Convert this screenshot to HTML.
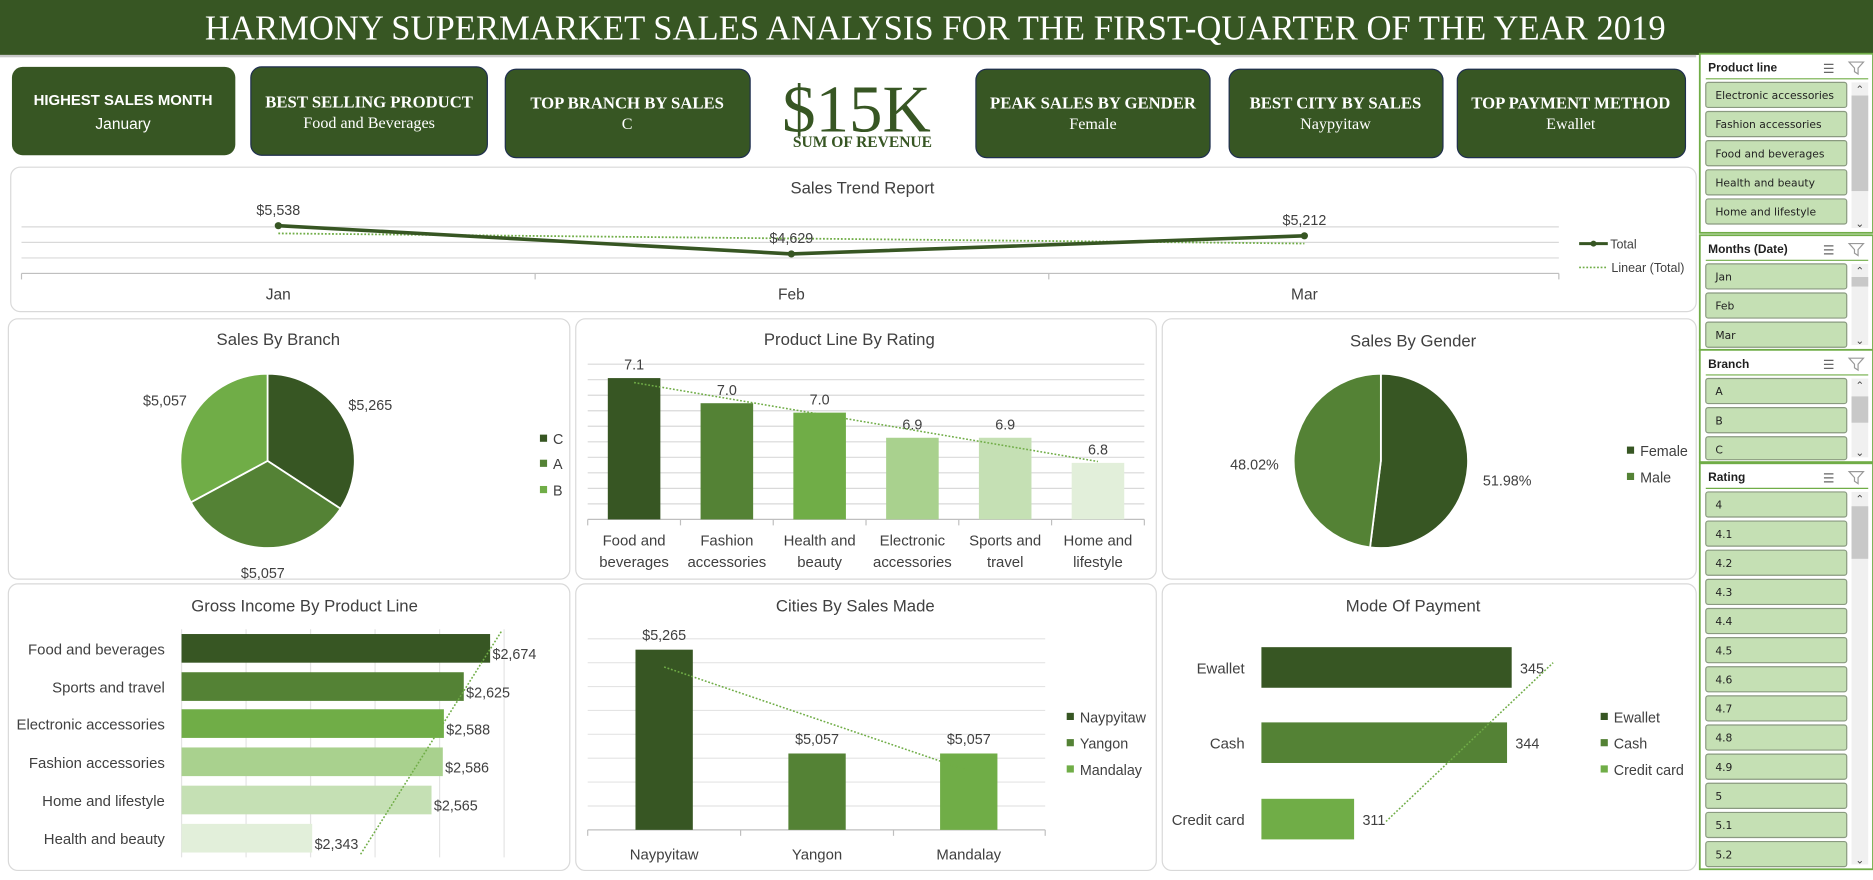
<!DOCTYPE html>
<html><head><meta charset="utf-8"><title>Harmony Supermarket Dashboard</title>
<style>
html,body{margin:0;padding:0;background:#fff;overflow:hidden}
svg{display:block;font-family:"Liberation Sans Narrow","Liberation Sans",sans-serif}
.serif{font-family:"Liberation Serif",serif}
</style></head>
<body>
<svg id="dash" width="1873" height="880" viewBox="0 0 1568 737" preserveAspectRatio="none" xmlns="http://www.w3.org/2000/svg">
<rect x="0" y="0" width="1568" height="737" fill="#ffffff"/>
<g>
<rect x="0" y="0" width="1568" height="46" fill="#375623"/>
<rect x="0" y="46" width="1420" height="2" fill="#c8c8c8"/>
<text class="serif" x="783" y="33" text-anchor="middle" font-size="29" fill="#ffffff">HARMONY SUPERMARKET SALES ANALYSIS FOR THE FIRST-QUARTER OF THE YEAR 2019</text>
</g>
<g fill="#fff">
<g>
<rect x="10" y="56" width="187" height="74" rx="9" fill="#375623"/>
<text x="103" y="88" text-anchor="middle" font-size="12.5" font-weight="bold" fill="#fff">HIGHEST SALES MONTH</text>
<text x="103" y="108" text-anchor="middle" font-size="13" fill="#fff">January</text></g>
<g>
<rect x="210" y="56" width="198" height="74" rx="9" fill="#375623" stroke="#1f2f4f"/>
<text class="serif" x="309" y="90" text-anchor="middle" font-size="14" font-weight="bold" fill="#fff">BEST SELLING PRODUCT</text>
<text class="serif" x="309" y="107" text-anchor="middle" font-size="13.5" fill="#fff">Food and Beverages</text></g>
<g>
<rect x="423" y="58" width="205" height="74" rx="9" fill="#375623" stroke="#1f2f4f"/>
<text class="serif" x="525" y="91" text-anchor="middle" font-size="14" font-weight="bold" fill="#fff">TOP BRANCH BY SALES</text>
<text class="serif" x="525" y="108" text-anchor="middle" font-size="13.5" fill="#fff">C</text></g>
<g>
<text class="serif" x="717" y="110" text-anchor="middle" font-size="56" fill="#375623">$15K</text>
<text class="serif" x="722" y="123" text-anchor="middle" font-size="13" font-weight="bold" fill="#375623">SUM OF REVENUE</text></g>
<g>
<rect x="817" y="58" width="196" height="74" rx="9" fill="#375623" stroke="#1f2f4f"/>
<text class="serif" x="915" y="91" text-anchor="middle" font-size="14" font-weight="bold" fill="#fff">PEAK SALES BY GENDER</text>
<text class="serif" x="915" y="108" text-anchor="middle" font-size="13.5" fill="#fff">Female</text></g>
<g>
<rect x="1029" y="58" width="179" height="74" rx="9" fill="#375623" stroke="#1f2f4f"/>
<text class="serif" x="1118" y="91" text-anchor="middle" font-size="14" font-weight="bold" fill="#fff">BEST CITY BY SALES</text>
<text class="serif" x="1118" y="108" text-anchor="middle" font-size="13.5" fill="#fff">Naypyitaw</text></g>
<g>
<rect x="1220" y="58" width="191" height="74" rx="9" fill="#375623" stroke="#1f2f4f"/>
<text class="serif" x="1315" y="91" text-anchor="middle" font-size="14" font-weight="bold" fill="#fff">TOP PAYMENT METHOD</text>
<text class="serif" x="1315" y="108" text-anchor="middle" font-size="13.5" fill="#fff">Ewallet</text></g>
</g>
<g id="panels" fill="#fff" stroke="#d9d9d9">
<rect x="9" y="140" width="1411" height="121" rx="8"/>
<rect x="7" y="267" width="470" height="218" rx="8"/>
<rect x="482" y="267" width="486" height="218" rx="8"/>
<rect x="973" y="267" width="447" height="218" rx="8"/>
<rect x="7" y="489" width="470" height="240" rx="8"/>
<rect x="482" y="489" width="486" height="240" rx="8"/>
<rect x="973" y="489" width="447" height="240" rx="8"/>
</g>
<g fill="#404040" font-size="14" text-anchor="middle">
<text x="722" y="162">Sales Trend Report</text>
<text x="233" y="289">Sales By Branch</text>
<text x="711" y="289">Product Line By Rating</text>
<text x="1183" y="290">Sales By Gender</text>
<text x="255" y="512">Gross Income By Product Line</text>
<text x="716" y="512">Cities By Sales Made</text>
<text x="1183" y="512">Mode Of Payment</text>
</g>
<g id="charts"></g>
<g id="sidebar"></g>
</svg>
<script>
const NS="http://www.w3.org/2000/svg";
const root=document.getElementById('charts');
const side=document.getElementById('sidebar');
function mk(tag,attrs,parent,txt){const e=document.createElementNS(NS,tag);for(const k in attrs)e.setAttribute(k,attrs[k]);if(txt!==undefined)e.textContent=txt;(parent||root).appendChild(e);return e;}
const C=['#375623','#548235','#70ad47','#a9d18e','#c5e0b4','#e2efda'];
const fmt=v=>'$'+v.toLocaleString('en-US');

// ---- Sales trend data
const trendMonths=['Jan','Feb','Mar'];
const trendValues=[5538,4629,5212];
// ---- Branch pie
const branchLabels=['C','A','B'];
const branchValues=[5265,5057,5057];
// ---- Rating
const ratingCats=[['Food and','beverages'],['Fashion','accessories'],['Health and','beauty'],['Electronic','accessories'],['Sports and','travel'],['Home and','lifestyle']];
const ratingValues=[7.11,7.03,7.0,6.92,6.92,6.84];
const ratingLabels=['7.1','7.0','7.0','6.9','6.9','6.8'];
// ---- Gender pie
const genderLabels=['Female','Male'];
const genderValues=[51.98,48.02];
// ---- Gross income
const incomeCats=['Food and beverages','Sports and travel','Electronic accessories','Fashion accessories','Home and lifestyle','Health and beauty'];
const incomeValues=[2674,2625,2588,2586,2565,2343];
// ---- Cities
const cityCats=['Naypyitaw','Yangon','Mandalay'];
const cityValues=[5265,5057,5057];
// ---- Payment
const payCats=['Ewallet','Cash','Credit card'];
const payValues=[345,344,311];

function linfit(vals){const n=vals.length;let mx=(n-1)/2,my=vals.reduce((a,b)=>a+b,0)/n,num=0,den=0;vals.forEach((v,i)=>{num+=(i-mx)*(v-my);den+=(i-mx)*(i-mx)});const b=num/den;return i=>my+b*(i-mx);}

// ===== Sales trend
(function(){
 const g=mk('g',{});
 const x=i=>233+i*((1092-233)/2);
 const y=v=>229-(v-4000)*0.026;
 for(let t=4000;t<=5500;t+=500){const l=mk('line',{x1:18,x2:1305,y1:y(t),y2:y(t),stroke:'#d9d9d9'},g);}
 mk('line',{x1:18,x2:1305,y1:229,y2:229,stroke:'#bfbfbf'},g);
 [18,448,878,1305].forEach(xx=>mk('line',{x1:xx,x2:xx,y1:229,y2:234,stroke:'#bfbfbf'},g));
 const f=linfit(trendValues);
 const tl=mk('line',{x1:x(0),y1:y(f(0)),x2:x(2),y2:y(f(2)),stroke:'#70ad47','stroke-width':1.5,'stroke-dasharray':'1.5 1.5'},g);
 
 const pl=mk('polyline',{points:trendValues.map((v,i)=>x(i)+','+y(v)).join(' '),fill:'none',stroke:'#375623','stroke-width':3},g);
 
 trendValues.forEach((v,i)=>{
  const c=mk('circle',{cx:x(i),cy:y(v),r:3,fill:'#375623'},g);
  const t=mk('text',{x:x(i),y:y(v)-9,'text-anchor':'middle','font-size':12,fill:'#404040'},g,fmt(v));
  const m=mk('text',{x:x(i),y:251,'text-anchor':'middle','font-size':13,fill:'#404040'},g,trendMonths[i]);
 });
 const l1=mk('g',{},g);
 mk('line',{x1:1322,x2:1346,y1:204,y2:204,stroke:'#375623','stroke-width':2.5},l1);mk('circle',{cx:1334,cy:204,r:2.5,fill:'#375623'},l1);
 mk('text',{x:1348,y:208,'font-size':10.5,fill:'#404040'},l1,'Total');
 const l2=mk('g',{},g);
 mk('line',{x1:1322,x2:1346,y1:224,y2:224,stroke:'#70ad47','stroke-width':1.3,'stroke-dasharray':'1.5 1.5'},l2);
 mk('text',{x:1349,y:228,'font-size':10.5,fill:'#404040'},l2,'Linear (Total)');
})();

// ===== pie helper
function pie(cx,cy,r,vals,cols,name){
 const tot=vals.reduce((a,b)=>a+b,0);let a0=-Math.PI/2;const mids=[];
 vals.forEach((v,i)=>{const a1=a0+v/tot*2*Math.PI;
  const p=mk('path',{d:`M${cx},${cy} L${cx+r*Math.cos(a0)},${cy+r*Math.sin(a0)} A${r},${r} 0 ${a1-a0>Math.PI?1:0} 1 ${cx+r*Math.cos(a1)},${cy+r*Math.sin(a1)} Z`,fill:cols[i],stroke:'#fff','stroke-width':1.5});
  
  mids.push((a0+a1)/2);a0=a1;});
 return mids;
}
function legend(x,ys,labels,cols,name){labels.forEach((lb,i)=>{const g=mk('g',{});
 mk('rect',{x:x,y:ys[i]-4,width:6,height:6,fill:cols[i]},g);mk('text',{x:x+11,y:ys[i]+4,'font-size':12,fill:'#404040'},g,lb);});}

// ===== Branch pie
(function(){
 const mids=pie(224,386,73,branchValues,C,'branch');
 mids.forEach((a,i)=>{const r=i==1?93:100;const t=mk('text',{x:224+r*Math.cos(a)+(i==0?-2:0),y:386+r*Math.sin(a)+5,'text-anchor':'middle','font-size':12,fill:'#404040'},root,fmt(branchValues[i]));
  });
 legend(452,[368,389,411],branchLabels,C,'branch');
})();

// ===== Gender pie
(function(){
 const mids=pie(1156,386,73,genderValues,C,'gender');
 mids.forEach((a,i)=>{const t=mk('text',{x:1156+106*Math.cos(a),y:386+106*Math.sin(a)+14,'text-anchor':'middle','font-size':12,fill:'#404040'},root,genderValues[i].toFixed(2)+'%');
  });
 legend(1362,[378,400],genderLabels,C,'gender');
})();

// ===== Rating bars
(function(){
 const base=435,min=6.66,k=263,x0=492,w=(958-492)/6;
 const y=v=>base-(v-min)*k;
 for(let i=1;i<=10;i++){const l=mk('line',{x1:x0,x2:958,y1:base-i*13,y2:base-i*13,stroke:'#d9d9d9'});}
 mk('line',{x1:x0,x2:958,y1:base,y2:base,stroke:'#bfbfbf'});
 for(let i=0;i<=6;i++)mk('line',{x1:x0+i*w,x2:x0+i*w,y1:base,y2:base+5,stroke:'#bfbfbf'});
 ratingValues.forEach((v,i)=>{const cx=x0+w*(i+0.5);
  const b=mk('rect',{x:cx-22,y:y(v),width:44,height:base-y(v),fill:C[i]});
  const t=mk('text',{x:cx,y:y(v)-7,'text-anchor':'middle','font-size':12,fill:'#404040'},root,ratingLabels[i]);
  ratingCats[i].forEach((s,j)=>{const c=mk('text',{x:cx,y:457+j*18,'text-anchor':'middle','font-size':12.5,fill:'#404040'},root,s);});
 });
 const f=linfit(ratingValues);
 const tl=mk('line',{x1:x0+w*0.5,y1:y(f(0)),x2:x0+w*5.5,y2:y(f(5)),stroke:'#70ad47','stroke-width':1.3,'stroke-dasharray':'1.5 1.5'});
 
})();

// ===== Gross income
(function(){
 const x0=152,min=2100,k=0.45,ys=[543,575,606,638,670,702];
 const x=v=>x0+(v-min)*k;
 for(let i=0;i<=5;i++){const l=mk('line',{x1:x0+i*54,x2:x0+i*54,y1:527,y2:718,stroke:'#e4e4e4'});}
 incomeValues.forEach((v,i)=>{
  const b=mk('rect',{x:x0,y:ys[i]-12,width:x(v)-x0,height:24,fill:C[i]});
  const t=mk('text',{x:x(v)+2,y:ys[i]+9,'font-size':12,fill:'#404040'},root,fmt(v));
  const c=mk('text',{x:138,y:ys[i]+5,'text-anchor':'end','font-size':12.5,fill:'#404040'},root,incomeCats[i]);
 });
 const f=linfit(incomeValues);
 const tl=mk('line',{x1:x(f(0)),y1:ys[0]-14,x2:x(f(5)),y2:ys[5]+14,stroke:'#70ad47','stroke-width':1.3,'stroke-dasharray':'1.5 1.5'});
 
})();

// ===== Cities
(function(){
 const base=695,min=4904,k=0.418,xs=[556,684,811];
 const y=v=>base-(v-min)*k;
 for(let i=1;i<=8;i++){const l=mk('line',{x1:492,x2:875,y1:base-i*20,y2:base-i*20,stroke:'#e4e4e4'});}
 mk('line',{x1:492,x2:875,y1:base,y2:base,stroke:'#bfbfbf'});
 [492,620,748,875].forEach(xx=>mk('line',{x1:xx,x2:xx,y1:base,y2:base+5,stroke:'#bfbfbf'}));
 cityValues.forEach((v,i)=>{
  const b=mk('rect',{x:xs[i]-24,y:y(v),width:48,height:base-y(v),fill:C[i]});
  const t=mk('text',{x:xs[i],y:y(v)-8,'text-anchor':'middle','font-size':12,fill:'#404040'},root,fmt(v));
  const c=mk('text',{x:xs[i],y:720,'text-anchor':'middle','font-size':12.5,fill:'#404040'},root,cityCats[i]);
 });
 const f=linfit(cityValues);
 const tl=mk('line',{x1:xs[0],y1:y(f(0)),x2:xs[2],y2:y(f(2)),stroke:'#70ad47','stroke-width':1.3,'stroke-dasharray':'1.5 1.5'});
 
 legend(893,[601,623,645],cityCats,C,'cities');
})();

// ===== Payment
(function(){
 const x0=1056,min=291,k=3.88,ys=[559,622,686];
 const x=v=>x0+(v-min)*k;
 payValues.forEach((v,i)=>{
  const b=mk('rect',{x:x0,y:ys[i]-17,width:x(v)-x0,height:34,fill:C[i]});
  const t=mk('text',{x:x(v)+7,y:ys[i]+5,'font-size':12,fill:'#404040'},root,String(v));
  const c=mk('text',{x:1042,y:ys[i]+5,'text-anchor':'end','font-size':12.5,fill:'#404040'},root,payCats[i]);
 });
 const f=linfit(payValues);
 const tl=mk('line',{x1:x(f(2))+6,y1:ys[2]+2,x2:x(f(0))+14,y2:ys[0]-4,stroke:'#70ad47','stroke-width':1.3,'stroke-dasharray':'1.5 1.5'});
 
 legend(1340,[601,623,645],payCats,C,'payment');
})();

// ===== Slicers
const slicers=[
 {title:'Product line',y:45,h:150,items:['Electronic accessories','Fashion accessories','Food and beverages','Health and beauty','Home and lifestyle'],thumb:[80,160]},
 {title:'Months (Date)',y:197,h:96,items:['Jan','Feb','Mar'],thumb:[232,240]},
 {title:'Branch',y:293,h:94,items:['A','B','C'],thumb:[332,354]},
 {title:'Rating',y:388,h:340,items:['4','4.1','4.2','4.3','4.4','4.5','4.6','4.7','4.8','4.9','5','5.1','5.2'],thumb:[424,468]}
];
slicers.forEach(s=>{
 const g=mk('g',{},side);
 mk('rect',{x:1423,y:s.y,width:145,height:s.h,fill:'#fff',stroke:'#70ad47','stroke-width':1.5},g);
 mk('text',{x:1430,y:s.y+15,'font-size':10,'font-weight':'bold',fill:'#1f1f1f','font-family':'Liberation Sans,sans-serif'},g,s.title);
 mk('text',{x:1526,y:s.y+16,'font-size':11,fill:'#666'},g,'☰');
 mk('path',{d:`M${1548},${s.y+7} h12 l-4.5,5 v5 l-3,-2 v-3 z`,fill:'none',stroke:'#999'},g);
 mk('line',{x1:1428,x2:1564,y1:s.y+21,y2:s.y+21,stroke:'#70ad47'},g);
 mk('rect',{x:1550,y:s.y+24,width:14,height:s.h-28,fill:'#f0f0f0'},g);
 mk('rect',{x:1550,y:s.thumb[0],width:14,height:s.thumb[1]-s.thumb[0],fill:'#c8c8c8'},g);
 mk('text',{x:1557,y:s.y+33,'font-size':9,'text-anchor':'middle',fill:'#444'},g,'⌃');
 mk('text',{x:1557,y:s.y+s.h-5,'font-size':9,'text-anchor':'middle',fill:'#444'},g,'⌄');
 s.items.forEach((it,i)=>{const iy=s.y+24+i*24.4;if(iy+6>s.y+s.h)return;
  const ig=mk('g',{},g);
  const h=Math.min(21,s.y+s.h-2-iy);
  mk('rect',{x:1428,y:iy,width:118,height:h,rx:2,fill:'#c5e0b4',stroke:'#8a9a80'},ig);
  if(h>12)mk('text',{x:1436,y:iy+14,'font-size':9,fill:'#222','font-family':'DejaVu Sans,sans-serif'},ig,it);
 });
});
</script>
</body></html>
